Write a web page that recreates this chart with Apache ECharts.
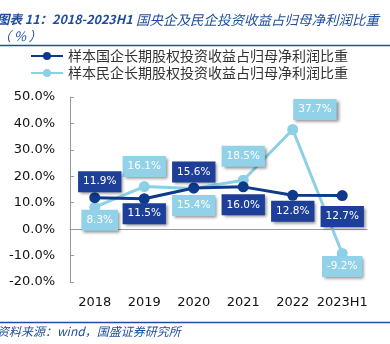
<!DOCTYPE html>
<html>
<head>
<meta charset="utf-8">
<script src="https://cdn.jsdelivr.net/npm/echarts@6/dist/echarts.min.js"></script>
<style>
  html, body { margin: 0; padding: 0; background: #fff; }
  #chart { width: 390px; height: 344px; }
</style>
</head>
<body>
<div id="chart"></div>
<script>
// Categories and series values (%)
const years = ['2018', '2019', '2020', '2021', '2022', '2023H1'];
const stateRatio = [11.9, 11.5, 15.6, 16.0, 12.8, 12.7];
const privateRatio = [8.3, 16.1, 15.4, 18.5, 37.7, -9.2];
const stateName = '样本国企长期股权投资收益占归母净利润比重';
const privateName = '样本民企长期股权投资收益占归母净利润比重';

// Label placement per point: [position, distance, dx]
const stateLabelPos = [['top', 0, 5], ['bottom', -1, 0], ['top', 0, 0], ['bottom', 2, 0], ['bottom', 0, 0], ['bottom', 5, 0]];
const privateLabelPos = [['bottom', -3, 5], ['top', 4, 0], ['bottom', 1, 0], ['top', 8, 0], ['corner', 0, 0], ['bottom', -3, 0]];

const DARK = '#0e3a8c';
const DARK_BOX = '#1e3f98';
const LIGHT = '#8dcfe5';
const LIGHT_BOX = '#92d2e8';
const BLUE_TEXT = '#1f4d9e';

function labelled(values, pos) {
  return values.map((v, i) => {
    const p = pos[i];
    const lab = p[0] === 'corner'
      ? { position: [6, -25] }
      : { position: p[0], distance: p[1], offset: [p[2], 0] };
    return { value: v, label: lab };
  });
}

const labelBase = (bg) => ({
  show: true,
  formatter: (p) => p.value.toFixed(1) + '%',
  color: '#fff',
  fontFamily: 'DejaVu Sans',
  fontSize: 10.5,
  backgroundColor: bg,
  padding: [5, 5, 5, 5],
  shadowColor: 'rgba(0,0,0,0.45)',
  shadowBlur: 3,
  shadowOffsetX: 2,
  shadowOffsetY: 2
});

const chart = echarts.init(document.getElementById('chart'), null, { renderer: 'canvas' });
chart.setOption({
  animation: false,
  backgroundColor: '#fff',
  grid: { left: 70, right: 23, top: 97, bottom: 62, containLabel: false, outerBoundsMode: 'none' },
  legend: {
    orient: 'vertical',
    left: 25,
    top: 44,
    itemWidth: 32,
    itemHeight: 10,
    itemGap: 3,
    textStyle: { fontFamily: 'Noto Sans CJK SC', fontSize: 14, color: '#333' },
    data: [stateName, privateName]
  },
  xAxis: {
    type: 'category',
    data: years,
    axisLine: { onZero: true, lineStyle: { color: '#999', width: 1 } },
    axisTick: { inside: true, length: 5, alignWithLabel: false, lineStyle: { color: '#999' } },
    axisLabel: {
      interval: 0,
      color: '#111', fontFamily: 'DejaVu Sans', fontSize: 13,
      margin: 14
    }
  },
  yAxis: {
    type: 'value',
    min: -20, max: 50, interval: 10,
    axisLine: { show: true, lineStyle: { color: '#999' } },
    axisTick: { show: true, inside: true, length: 4, lineStyle: { color: '#999' } },
    splitLine: { show: false },
    axisLabel: {
      color: '#111', fontFamily: 'DejaVu Sans', fontSize: 13, margin: 15,
      formatter: (v) => v.toFixed(1) + '%'
    }
  },
  series: [
    {
      name: stateName,
      type: 'line',
      z: 3,
      data: labelled(stateRatio, stateLabelPos),
      symbol: 'circle',
      symbolSize: 11,
      lineStyle: { color: DARK, width: 3 },
      itemStyle: { color: DARK },
      label: labelBase(DARK_BOX)
    },
    {
      name: privateName,
      type: 'line',
      z: 2,
      data: labelled(privateRatio, privateLabelPos),
      symbol: 'circle',
      symbolSize: 11,
      lineStyle: { color: LIGHT, width: 3 },
      itemStyle: { color: LIGHT },
      label: labelBase(LIGHT_BOX)
    }
  ],
  graphic: [
    {
      type: 'text', left: -3, top: 13,
      style: {
        text: '{b|图表 11：2018-2023H1} {n|国央企及民企投资收益占归母净利润比重}',
        rich: {
          b: { fontFamily: 'Noto Sans CJK SC', fontSize: 12.5, fontWeight: 'bold', fontStyle: 'italic', fill: BLUE_TEXT },
          n: { fontFamily: 'Noto Sans CJK SC', fontSize: 13.5, fontStyle: 'italic', fill: BLUE_TEXT }
        }
      }
    },
    {
      type: 'text', left: -2, top: 30,
      style: { text: '（ % ）', fontFamily: 'Noto Sans CJK SC', fontSize: 13, fontStyle: 'italic', fill: BLUE_TEXT }
    },
    {
      type: 'line', shape: { x1: 0, y1: 45.5, x2: 390, y2: 45.5 },
      style: { stroke: BLUE_TEXT, lineWidth: 1.5 }
    },
    {
      type: 'line', shape: { x1: 0, y1: 322.5, x2: 390, y2: 322.5 },
      style: { stroke: BLUE_TEXT, lineWidth: 1.5 }
    },
    {
      type: 'text', left: -3, top: 325,
      style: { text: '资料来源：wind，国盛证券研究所', fontFamily: 'Noto Sans CJK SC', fontSize: 12, fontStyle: 'italic', fill: BLUE_TEXT }
    }
  ]
});
</script>
</body>
</html>
